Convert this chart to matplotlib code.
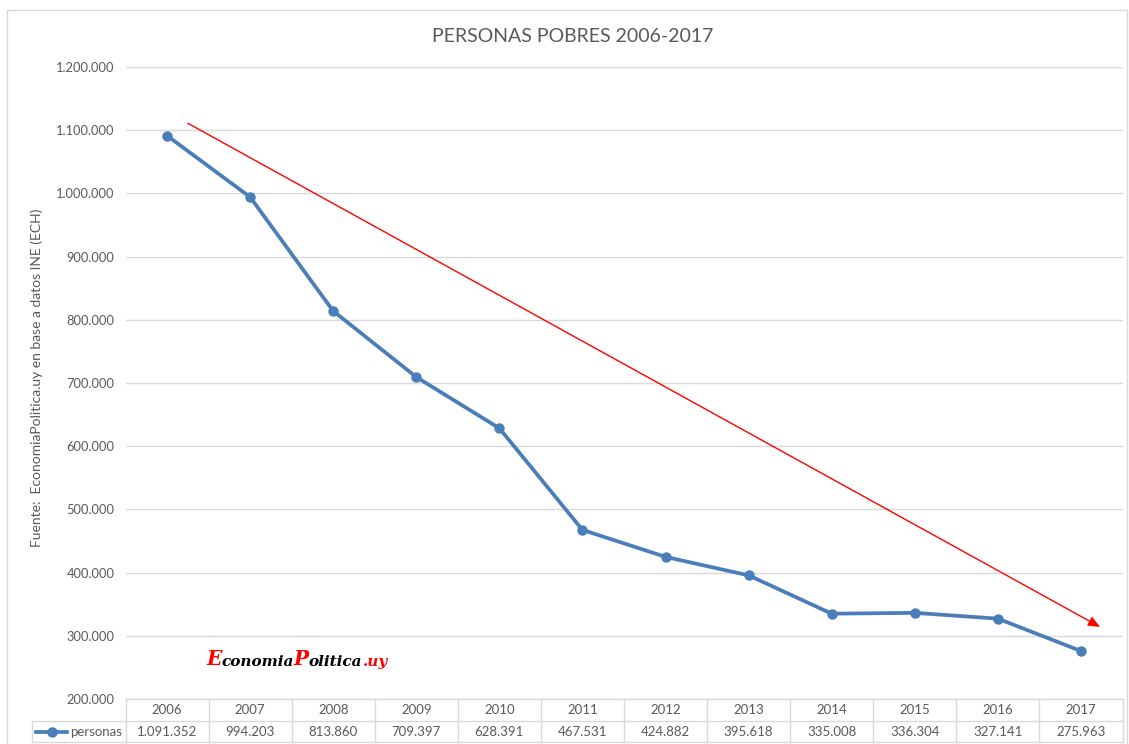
import matplotlib
matplotlib.use("Agg")
import matplotlib.pyplot as plt
import matplotlib.transforms as mtransforms
from matplotlib.lines import Line2D
from matplotlib.patches import Rectangle

years = ["2006", "2007", "2008", "2009", "2010", "2011", "2012", "2013", "2014", "2015", "2016", "2017"]
personas = [1091352, 994203, 813860, 709397, 628391, 467531, 424882, 395618, 335008, 336304, 327141, 275963]
series_name = "personas"
title = "PERSONAS POBRES 2006-2017"
ylabel = "Fuente:  EconomiaPolitica.uy en base a datos INE (ECH)"
yticks = [200000, 300000, 400000, 500000, 600000, 700000, 800000, 900000, 1000000, 1100000, 1200000]
watermark_parts = [("E", '#FF0000'), ("conomia", 'black'), ("P", '#FF0000'),
                   ("olitica", 'black'), (".uy", '#FF0000')]

plt.rcParams['font.family'] = ['Lato', 'DejaVu Sans']

W, H = 1129, 744
fig = plt.figure(figsize=(W / 100, H / 100), dpi=100)
TXT = '#595959'
GRID = '#D9D9D9'
BLUE = '#4A7EBB'


def fx(px):
    return px / W


def fy(py):
    return 1 - py / H


def fmt(v):
    return f"{v:,}".replace(",", ".")


# chart border
fig.patches.append(Rectangle((fx(7), fy(1000)), fx(1120), fy(10) - fy(1000),
                             transform=fig.transFigure, fill=False, edgecolor=GRID, lw=1))

left, right, top, bottom = 125.5, 1122.5, 67, 699
ax = fig.add_axes([fx(left), fy(bottom), fx(right - left), fy(top) - fy(bottom)])

x = list(range(len(years)))
ax.plot(x, personas, color=BLUE, lw=2.7, marker='o', markersize=6.5, zorder=3,
        solid_capstyle='round')
ax.set_xlim(-0.5, len(years) - 0.5)
ax.set_ylim(yticks[0], yticks[-1])
ax.set_yticks(yticks)
ax.set_yticklabels([fmt(v) for v in yticks], color=TXT, fontsize=9.3)
ax.tick_params(axis='y', length=0, pad=8)
ax.set_xticks([])
ax.grid(axis='y', color=GRID, lw=1)
ax.set_axisbelow(True)
for s in ax.spines.values():
    s.set_visible(False)

fig.text(fx(573), fy(37), title, ha='center', va='center', fontsize=14, color=TXT)
fig.text(fx(37), fy(378), ylabel, ha='center', va='center', rotation=90, fontsize=10, color=TXT)

# red trend arrow
ax.annotate("", xy=(11.23, 314000), xytext=(0.25, 1111000),
            arrowprops=dict(arrowstyle='-|>,head_length=0.7,head_width=0.3', color='#FF0000', lw=1,
                            shrinkA=0, shrinkB=0), zorder=4)

# watermark: chained text pieces
prev = None
for s, c in watermark_parts:
    fs = 14.5 if s in ("E", "P") else 11
    style = dict(color=c, fontsize=fs, fontstyle='italic', fontweight='bold', family='DejaVu Serif')
    if prev is None:
        prev = fig.text(fx(206), fy(665), s, va='baseline', **style)
    else:
        prev = ax.annotate(s, xy=(1, 0), xycoords=prev, va='bottom', ha='left',
                           annotation_clip=False, **style)

# data table
bt = mtransforms.blended_transform_factory(ax.transData, fig.transFigure)
row_top, row_mid, row_bot = 699, 721, 742
n = len(years)
for i in range(n + 1):
    xb = i - 0.5
    ax.add_line(Line2D([xb, xb], [fy(row_top), fy(row_bot)], transform=bt, color=GRID, lw=1, clip_on=False))
for yb in (row_top, row_mid, row_bot):
    ax.add_line(Line2D([-0.5, n - 0.5], [fy(yb), fy(yb)], transform=bt, color=GRID, lw=1, clip_on=False))
# legend cell
fig.add_artist(Line2D([fx(32), fx(left)], [fy(row_mid), fy(row_mid)], color=GRID, lw=1))
fig.add_artist(Line2D([fx(32), fx(left)], [fy(row_bot), fy(row_bot)], color=GRID, lw=1))
fig.add_artist(Line2D([fx(32), fx(32)], [fy(row_mid), fy(row_bot)], color=GRID, lw=1))
fig.add_artist(Line2D([fx(36), fx(67)], [fy(731.5), fy(731.5)], color=BLUE, lw=2.7))
fig.add_artist(Line2D([fx(51.5)], [fy(731.5)], color=BLUE, marker='o', markersize=6.5, lw=0))
fig.text(fx(70), fy(731.5), series_name, ha='left', va='center', fontsize=9.5, color=TXT)
for i, (yr, v) in enumerate(zip(years, personas)):
    ax.text(i, fy(710), yr, transform=bt, ha='center', va='center', fontsize=9.5, color=TXT)
    ax.text(i, fy(731.5), fmt(v), transform=bt, ha='center', va='center', fontsize=9.5, color=TXT)

fig.savefig("out.png", dpi=100)
